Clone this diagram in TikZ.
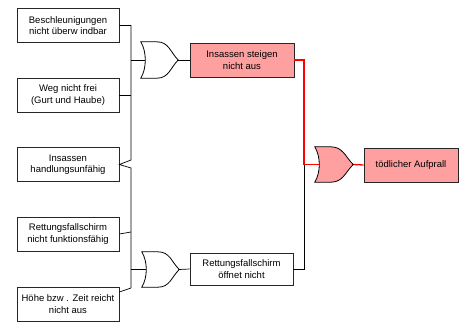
\documentclass[tikz,border=0pt]{standalone}
\usepackage{fontspec}
\setmainfont{Liberation Sans}
\usetikzlibrary{calc}
\definecolor{boxred}{RGB}{255,160,160}
\newcommand\orgatepath[2]{\draw[gateline, fill=#2] (#1.north west) -- ++(16,0) .. controls +(12,0) and +(-8,-8) .. (#1.east) .. controls +(-8,8) and +(12,0) .. ($(#1.south west)+(16,0)$) -- (#1.south west) .. controls +(6,-10) and +(6,10) .. (#1.north west) -- cycle;}
\begin{document}
\begin{tikzpicture}[x=1pt,y=-1pt,
  evt/.style={draw=black!85, line width=0.8pt, minimum width=102pt, minimum height=34pt, align=center, font=\fontsize{9.5}{11.5}\selectfont, inner sep=0pt},
  hot/.style={evt, fill=boxred},
  gatebox/.style={minimum width=37pt, minimum height=36pt, inner sep=0pt, draw=none},
  gateline/.style={draw=black, line width=0.8pt},
  wire/.style={line width=0.7pt, black},
  redwire/.style={line width=1.3pt, red}]
\useasboundingbox (0,0) rectangle (459,322);
% basic events
\node[evt] (b1) at (68,25.5) {Beschleunigungen\\nicht überw indbar};
\node[evt] (b2) at (68,95) {Weg nicht frei\\(Gurt und Haube)};
\node[evt] (b3) at (68,164.5) {Insassen\\handlungsunfähig};
\node[evt] (b4) at (68,234) {Rettungsfallschirm\\nicht funktionsfähig};
\node[evt] (b5) at (68,304) {Höhe bzw . Zeit reicht\\nicht aus};
% gates and intermediate events
\node[gatebox] (g1) at (159.5,60) {};
\node[hot, minimum width=104pt] (e1) at (242,60) {Insassen steigen\\nicht aus};
\node[gatebox, minimum height=35pt] (g2) at (160.5,269.5) {};
\node[evt, minimum height=32pt, minimum width=103pt] (e2) at (241.5,269) {Rettungsfallschirm\\öffnet nicht};
\node[gatebox, minimum width=38pt, minimum height=35pt] (g3) at (334,164.5) {};
\node[hot, minimum width=94pt] (top) at (411,165) {tödlicher Aufprall};
% bus coordinates
\coordinate (u1) at (131,25.5);
\coordinate (u2) at (131,95);
\coordinate (u3) at (131,160);
\coordinate (l3) at (131,168);
\coordinate (l4) at (131,232);
\coordinate (l5) at (131,288);
\coordinate (i1) at (131,60);
\coordinate (i2) at (131,269.5);
\coordinate (j) at (304,164.5);
% wires
\draw[wire] (b1.east) -- (u1) -- (u3) -- (b3.east) -- (l3) -- (l5) -- ([yshift=12pt]b5.east);
\draw[wire] (b2.east) -- (u2);
\draw[wire] (b4.east) -- (l4);
\draw[wire] (i1) -- ([xshift=4.5pt]g1.west);
\draw[wire] (i2) -- ([xshift=4.5pt]g2.west);
\draw[wire] (g1.east) -- (e1.west);
\draw[wire] (g2.east) -- (e2.west);
\draw[wire] (e2.east) -| (j);
\draw[redwire] (e1.east) -| (j) -- ([xshift=4.5pt]g3.west);
\draw[redwire] (g3.east) -- (top.west);
% gate shapes
\orgatepath{g1}{white}
\orgatepath{g2}{white}
\orgatepath{g3}{boxred}
\end{tikzpicture}
\end{document}
